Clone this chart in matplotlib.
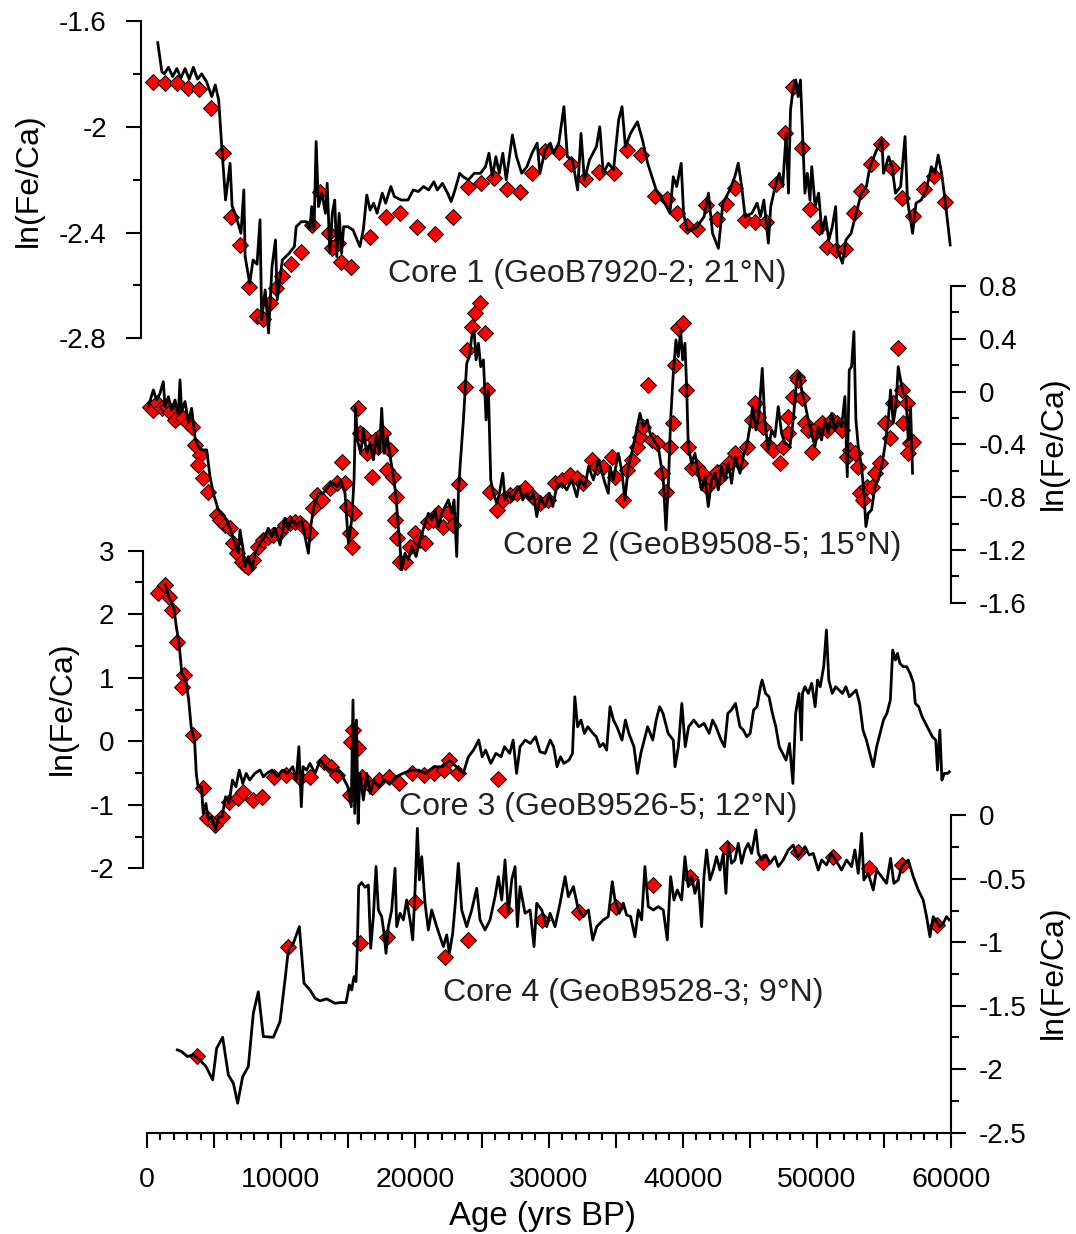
import matplotlib
matplotlib.use('Agg')
import matplotlib.pyplot as plt
from matplotlib.ticker import MultipleLocator, FuncFormatter

plt.rcParams['font.family'] = ['Liberation Sans', 'DejaVu Sans']
plt.rcParams['axes.unicode_minus'] = False

# ---------------- Core 1 (GeoB7920-2) ----------------
c1_age = [802, 1111, 1293, 1603, 1913, 2223, 2533, 2842, 3152, 3462,
          3772, 4082, 4450, 4836, 5095, 5353, 5607, 5864, 6200, 6355,
          6562, 6768, 7016, 7228, 7326, 7667, 7920, 8215, 8437, 8561,
          8824, 9077, 9330, 9594, 9718, 10105, 10622, 11004, 11138, 11520,
          11908, 12161, 12295, 12471, 12626, 12802, 13065, 13318, 13452, 13654,
          13835, 14015, 14165, 14346, 14527, 14682, 14992, 15379, 15891, 16149,
          16407, 16660, 16918, 17177, 17564, 17817, 18205, 18463, 18974, 19486,
          19878, 20261, 20643, 21025, 21418, 21676, 22058, 22440, 22704, 22957,
          23344, 23598, 23985, 24434, 24889, 25271, 25529, 25788, 26046, 26299,
          26562, 26816, 27280, 27585, 27973, 28360, 28742, 29130, 29337,
          29720, 30104, 30355, 30740, 31125, 31381, 31760, 32150, 32401, 32653,
          33037, 33550, 33801, 34063, 34448, 34827, 35212, 35463, 35714, 36099,
          36612, 36991, 37376, 38012, 38653, 39037, 39288, 39545, 39878, 40058,
          40309, 40693, 41073, 41586, 41914, 42222, 42657, 42991, 43504, 43883,
          44139, 44396, 44652, 45160, 45545, 45801, 46052, 46386, 46565, 46950,
          47201, 47457, 47714, 47888, 48042, 48227, 48426, 48611, 48785, 48991,
          49114, 49298, 49493, 49626, 49883, 50139, 50391, 50647, 50903, 51160,
          51411, 51539, 51924, 52180, 52560, 52944, 53329, 53708, 53970, 54472,
          54857, 54985, 55370, 55621, 55877, 56262, 56590, 56770, 57154, 57411,
          57795, 58175, 58559, 58816, 59067, 59324, 59580, 59965]
c1_val = [-1.682, -1.792, -1.800, -1.775, -1.810, -1.780, -1.815, -1.780, -1.820, -1.775,
          -1.820, -1.800, -1.830, -1.886, -1.842, -1.899, -2.094, -2.277, -2.138, -2.300,
          -2.327, -2.360, -2.403, -2.239, -2.491, -2.592, -2.504, -2.520, -2.352, -2.730,
          -2.617, -2.780, -2.529, -2.428, -2.655, -2.504, -2.478, -2.453, -2.378, -2.359,
          -2.359, -2.390, -2.302, -2.390, -2.056, -2.302, -2.251, -2.327, -2.214, -2.478,
          -2.327, -2.277, -2.491, -2.327, -2.478, -2.378, -2.378, -2.390, -2.453, -2.390,
          -2.258, -2.315, -2.289, -2.327, -2.251, -2.289, -2.226, -2.264, -2.277, -2.277,
          -2.239, -2.245, -2.226, -2.239, -2.208, -2.239, -2.214, -2.251, -2.283, -2.245,
          -2.176, -2.189, -2.201, -2.176, -2.176, -2.151, -2.100, -2.189, -2.113, -2.176,
          -2.100, -2.201, -2.031, -2.113, -2.176, -2.151, -2.100, -2.062, -2.176,
          -2.088, -2.062, -2.100, -2.062, -1.924, -2.113, -2.125, -2.239, -2.025, -2.201,
          -2.125, -2.075, -2.000, -2.176, -2.138, -2.163, -1.974, -1.924, -2.075, -2.025,
          -1.981, -2.050, -2.138, -2.239, -2.289, -2.327, -2.189, -2.226, -2.138, -2.327,
          -2.390, -2.390, -2.378, -2.340, -2.251, -2.403, -2.460, -2.289, -2.239, -2.189,
          -2.138, -2.226, -2.340, -2.327, -2.289, -2.340, -2.277, -2.440, -2.302, -2.214,
          -2.176, -2.226, -2.025, -2.251, -1.936, -1.861, -1.823, -1.886, -1.823, -2.088,
          -2.251, -2.176, -2.277, -2.151, -2.302, -2.251, -2.403, -2.340, -2.428, -2.378,
          -2.302, -2.466, -2.516, -2.428, -2.403, -2.327, -2.251, -2.226, -2.151, -2.088,
          -2.050, -2.176, -2.113, -2.151, -2.251, -2.226, -2.037, -2.277, -2.403, -2.289,
          -2.277, -2.239, -2.151, -2.176, -2.107, -2.176, -2.277, -2.447]
c1_mk_age = [466, 1365, 2212, 3039, 3886, 4759, 5683, 6252, 6944, 7584,
             8178, 8690, 9155, 9594, 10053, 10751, 11520, 12295, 12936, 13576,
             13783, 14222, 14475, 15250, 16660, 17869, 18897, 20131, 21495, 22833,
             23990, 24966, 25917, 26872, 27843, 28742, 29720, 30740, 31689, 32730,
             33750, 34827, 35848, 36863, 37935, 38832, 39545, 40309, 41027, 41765,
             42529, 43247, 43934, 44652, 45416, 46237, 46950, 47611, 48227, 48862,
             49498, 50139, 50775, 51411, 52129, 52744, 53329, 54016, 54806, 55621,
             56385, 57154, 57970, 58734, 59580]
c1_mk_val = [-1.830, -1.833, -1.833, -1.855, -1.858, -1.930, -2.098, -2.342, -2.447, -2.607,
             -2.715, -2.728, -2.665, -2.611, -2.564, -2.520, -2.475, -2.371, -2.248, -2.403,
             -2.457, -2.438, -2.510, -2.529, -2.418, -2.340, -2.327, -2.378, -2.405, -2.340,
             -2.229, -2.214, -2.192, -2.236, -2.245, -2.176, -2.090, -2.094, -2.141, -2.197,
             -2.170, -2.176, -2.088, -2.107, -2.261, -2.273, -2.327, -2.374, -2.386, -2.296,
             -2.349, -2.292, -2.233, -2.352, -2.359, -2.359, -2.216, -2.025, -1.848, -2.079,
             -2.311, -2.378, -2.456, -2.466, -2.463, -2.325, -2.243, -2.142, -2.065, -2.157,
             -2.270, -2.336, -2.236, -2.185, -2.283]

# ---------------- Core 2 (GeoB9508-5) ----------------
c2_age = [100, 473, 722, 970, 1219, 1344, 1592, 1841, 2090, 2339,
          2463, 2588, 2837, 3086, 3334, 3583, 3832, 4081, 4454, 4703,
          4952, 5325, 5574, 5947, 6320, 6569, 6818, 6943, 7142, 7316,
          7565, 7814, 8063, 8436, 8810, 9058, 9307, 9556, 9930, 10303,
          10552, 10801, 11174, 11548, 11797, 12046, 12220, 12469, 12793, 13166,
          13539, 13913, 14211, 14460, 14784, 15033, 15282, 15456, 15580, 15705,
          15954, 16153, 16402, 16651, 16900, 17099, 17348, 17522, 17696, 17945,
          18194, 18393, 18592, 18717, 18891, 19016, 19265, 19514, 19763, 20087,
          20385, 20684, 21008, 21257, 21506, 21755, 22003, 22252, 22501, 22750,
          22924, 23123, 23248, 23372, 23621, 23870, 24069, 24244, 24418, 24567,
          24742, 24916, 25115, 25314, 25488, 25662, 25861, 26110, 26309, 26558,
          26732, 26981, 27230, 27479, 27803, 28052, 28301, 28599, 28848, 29097,
          29346, 29719, 30043, 30292, 30591, 30964, 31337, 31711, 32084, 32333,
          32706, 32955, 33328, 33702, 34190, 34438, 34562, 34811, 35184, 35433,
          35682, 35930, 36179, 36503, 36801, 37050, 37349, 37548, 37796, 38170,
          38543, 38742, 38917, 39090, 39290, 39489, 39663, 39837, 39986, 40160,
          40285, 40410, 40658, 40907, 41156, 41404, 41653, 41901, 42150, 42399,
          42648, 42897, 43146, 43395, 43643, 43892, 44265, 44514, 44763, 45012,
          45211, 45460, 45684, 45933, 46132, 46381, 46630, 46879, 47127, 47376,
          47625, 47998, 48247, 48496, 48695, 48869, 49118, 49367, 49615, 49864,
          50113, 50362, 50610, 50859, 51108, 51357, 51605, 51854, 52103, 52277,
          52426, 52600, 52774, 52924, 53098, 53347, 53521, 53670, 53844, 54093,
          54342, 54590, 54839, 55088, 55337, 55511, 55710, 55909, 56083, 56257,
          56456, 56655, 56830, 57004, 57153]
c2_val = [-0.114, 0.012, -0.064, -0.013, 0.075, -0.114, -0.039, -0.139, -0.064, -0.177,
          0.088, -0.152, -0.076, -0.228, -0.127, -0.350, -0.417, -0.442, -0.442, -0.644,
          -0.771, -0.897, -0.922, -0.972, -1.073, -1.149, -1.225, -1.049, -1.175, -1.326,
          -1.250, -1.351, -1.225, -1.149, -1.099, -1.036, -1.099, -1.036, -1.162, -0.960,
          -1.036, -0.972, -1.010, -0.972, -1.099, -1.225, -1.023, -0.871, -0.771, -0.771,
          -0.720, -0.694, -0.720, -0.669, -0.771, -1.149, -0.972, -0.669, -0.114, -0.366,
          -0.467, -0.290, -0.467, -0.391, -0.518, -0.341, -0.467, -0.127, -0.467, -0.341,
          -0.518, -0.644, -0.796, -0.972, -1.175, -1.351, -1.225, -1.275, -1.175, -1.250,
          -1.124, -1.023, -0.922, -0.972, -0.897, -1.023, -0.922, -0.871, -0.821, -0.922,
          -0.821, -1.250, -0.771, -0.568, -0.215, 0.215, 0.265, 0.416, 0.467, 0.240,
          0.366, 0.189, 0.240, -0.215, 0.012, -0.669, -0.771, -0.846, -0.771, -0.619,
          -0.821, -0.771, -0.821, -0.771, -0.720, -0.821, -0.771, -0.821, -0.771, -0.947,
          -0.796, -0.871, -0.771, -0.871, -0.720, -0.694, -0.745, -0.669, -0.796, -0.669,
          -0.720, -0.568, -0.669, -0.518, -0.695, -0.771, -0.569, -0.670, -0.468, -0.594,
          -0.821, -0.569, -0.468, -0.316, -0.165, -0.266, -0.215, -0.316, -0.367, -0.417,
          -0.670, -1.048, -0.720, -0.215, 0.138, 0.391, 0.265, 0.467, 0.240, 0.366,
          0.037, -0.417, -0.543, -0.468, -0.619, -0.745, -0.645, -0.872, -0.670, -0.619,
          -0.745, -0.569, -0.670, -0.543, -0.695, -0.493, -0.619, -0.493, -0.417, -0.266,
          -0.114, -0.291, -0.165, 0.176, -0.240, -0.442, -0.291, -0.341, -0.114, -0.316,
          -0.392, -0.417, -0.215, 0.088, 0.138, 0.012, -0.089, -0.215, -0.316, -0.417,
          -0.266, -0.367, -0.215, -0.316, -0.165, -0.291, -0.215, -0.266, -0.038, -0.645,
          0.164, 0.189, 0.454, -0.215, -0.417, -0.569, -0.771, -1.023, -0.922, -0.897,
          -0.720, -0.670, -0.569, -0.417, -0.215, 0.012, -0.240, -0.114, 0.189, 0.088,
          -0.013, -0.038, -0.367, -0.114, -0.619]
c2_mk_age = [224, 473, 722, 1095, 1468, 1717, 2090, 2339, 2712, 3086,
             3334, 3583, 3956, 3832, 4205, 4578, 5200, 5450, 5823, 6196,
             6395, 6694, 7067, 7316, 7565, 7938, 8311, 8685, 9058, 9431,
             9929, 10303, 10676, 11049, 11423, 11796, 12169, 12418, 12667, 13041,
             13663, 14160, 14534, 14783, 14908, 15157, 15282, 15456, 15779, 15904,
             16153, 16402, 16775, 17024, 17273, 17646, 17895, 18144, 18393, 18592,
             18517, 18642, 18891, 19264, 19637, 20011, 20384, 20757, 21006, 21379,
             21753, 22126, 22499, 22872, 23320, 23743, 23868, 24241, 24490, 24863,
             25236, 25361, 25610, 26108, 26605, 27103, 27601, 28223, 28845, 29343,
             29965, 30463, 30961, 31583, 32081, 32579, 33201, 33574, 34064, 34686,
             34935, 35557, 35806, 36179, 36552, 36801, 37050, 37423, 37672, 38045,
             38418, 38742, 39040, 39289, 39414, 39662, 39986, 40235, 40409, 40658,
             41031, 41404, 41777, 42150, 42524, 42772, 43146, 43519, 43892, 44265,
             44763, 45136, 45385, 45634, 46007, 46380, 46753, 47251, 47500, 47873,
             47873, 48246, 48495, 48619, 48868, 49117, 49366, 49614, 49863, 50112,
             50361, 50734, 51107, 51480, 51854, 52227, 52476, 52849, 53098, 53222,
             53471, 53720, 54093, 54342, 54715, 55088, 55461, 55710, 56083, 56332,
             56705, 56456, 56954, 56830, 57203]
c2_mk_val = [-0.114, -0.139, -0.089, -0.127, -0.114, -0.152, -0.215, -0.190, -0.203, -0.240,
             -0.266, -0.404, -0.480, -0.556, -0.657, -0.758, -0.935, -0.973, -1.010, -1.036,
             -1.149, -1.225, -1.288, -1.314, -1.326, -1.276, -1.175, -1.124, -1.099, -1.086,
             -1.061, -1.010, -0.998, -0.985, -0.998, -1.036, -1.074, -0.884, -0.783, -0.821,
             -0.733, -0.695, -0.531, -0.695, -0.872, -1.074, -1.175, -0.922, -0.127, -0.316,
             -0.329, -0.468, -0.644, -0.367, -0.417, -0.316, -0.594, -0.442, -0.644, -0.796,
             -0.973, -1.112, -1.288, -1.288, -1.175, -1.074, -1.124, -1.149, -0.985, -0.973,
             -0.922, -1.023, -0.922, -1.010, -0.700, 0.037, 0.315, 0.492, 0.593, 0.669,
             0.441, 0.012, -0.758, -0.897, -0.821, -0.783, -0.771, -0.733, -0.796, -0.846,
             -0.821, -0.695, -0.670, -0.632, -0.657, -0.695, -0.518, -0.569, -0.569, -0.493,
             -0.644, -0.821, -0.594, -0.518, -0.417, -0.341, -0.266, 0.050, -0.367, -0.392,
             -0.619, -0.758, -0.417, -0.240, 0.202, 0.479, 0.517, 0.012, -0.417, -0.581,
             -0.569, -0.619, -0.720, -0.670, -0.607, -0.644, -0.569, -0.531, -0.468, -0.543,
             -0.417, -0.215, -0.089, -0.190, -0.266, -0.404, -0.442, -0.543, -0.417, -0.190,
             -0.316, -0.038, 0.113, 0.088, -0.051, -0.240, -0.291, -0.455, -0.316, -0.266,
             -0.240, -0.291, -0.215, -0.240, -0.291, -0.493, -0.442, -0.468, -0.569, -0.771,
             -0.821, -0.720, -0.720, -0.619, -0.543, -0.240, -0.354, -0.089, 0.328, 0.012,
             -0.089, -0.240, -0.392, -0.468, -0.379]

# ---------------- Core 3 (GeoB9526-5) ----------------
c3_age = [1365, 1622, 2008, 2188, 2394, 2600, 2908, 3113, 3294, 3551,
          3679, 3807, 4065, 4193, 4398, 4579, 4836, 5093, 5350, 5607,
          5864, 6122, 6379, 6636, 6892, 7149, 7407, 7664, 8049, 8435,
          8692, 8949, 9334, 9721, 10106, 10492, 10877, 11134, 11340, 11520,
          11649, 11906, 12163, 12550, 12935, 13321, 13707, 14092, 14478, 14736,
          14993, 15250, 15378, 15507, 15635, 15763, 15893, 16150, 16407, 16664,
          16922, 17307, 17693, 18079, 18593, 19108, 19750, 20265, 20779, 21422,
          22064, 22579, 23093, 23608, 23993, 24379, 24765, 25022, 25279, 25665,
          26050, 26435, 26693, 27078, 27335, 27592, 27850, 28235, 28621, 29007,
          29337, 29720, 30102, 30357, 30613, 30868, 31124, 31506, 31762,
          31940, 32144, 32399, 32655, 32909, 33293, 33547, 33802, 34058, 34313,
          34568, 34823, 35078, 35461, 35716, 35972, 36354, 36610, 36865, 37119,
          37375, 37758, 38014, 38268, 38523, 38906, 39288, 39417, 39672, 39927,
          40183, 40437, 40820, 41203, 41586, 41968, 42223, 42478, 42861, 43116,
          43364, 43627, 43932, 44265, 44520, 44775, 45030, 45285, 45540, 45796,
          45923, 46178, 46434, 46689, 46944, 47200, 47454, 47710, 47965, 48220,
          48424, 48680, 48858, 48935, 49113, 49368, 49624, 49878, 50057, 50261,
          50518, 50722, 50900, 51156, 51411, 51666, 51921, 52176, 52431, 52686,
          52941, 53197, 53452, 53706, 53962, 54217, 54471, 54727, 54982, 55237,
          55493, 55671, 55875, 56028, 56207, 56462, 56717, 56973, 57228, 57355,
          57610, 57866, 58121, 58376, 58630, 58885, 59013, 59191, 59344, 59522,
          59777, 59905]
c3_val = [2.460, 2.276, 2.092, 1.804, 1.540, 1.069, 0.964, 0.649, 0.229, 0.019,
          -0.506, -0.716, -0.716, -1.136, -0.979, -1.241, -1.189, -1.398, -1.189, -1.189,
          -0.874, -0.979, -0.611, -0.716, -0.454, -0.664, -0.506, -0.611, -0.506, -0.454,
          -0.559, -0.506, -0.454, -0.559, -0.454, -0.506, -0.401, -0.611, -0.086, -1.031,
          -0.401, -0.454, -0.349, -0.506, -0.296, -0.401, -0.454, -0.454, -0.506, -0.611,
          -0.716, -1.031, 0.649, -1.136, 0.334, -1.294, -0.506, -0.926, -0.506, -0.821,
          -0.611, -0.716, -0.611, -0.664, -0.559, -0.506, -0.454, -0.454, -0.506, -0.401,
          -0.401, -0.296, -0.401, -0.506, -0.244, -0.139, 0.019, -0.244, -0.139, -0.349,
          -0.191, -0.244, -0.086, -0.191, 0.019, -0.506, -0.086, 0.019, -0.034, 0.071,
          -0.165, -0.191, 0.019, -0.086, -0.401, -0.244, -0.349, -0.296, -0.191,
          0.701, 0.229, 0.334, 0.124, 0.229, 0.124, 0.071, -0.086, -0.034, -0.139,
          0.544, 0.334, 0.229, 0.019, 0.334, 0.124, -0.086, -0.506, -0.191, 0.019,
          0.229, 0.019, 0.334, 0.544, 0.439, 0.124, 0.019, -0.401, -0.086, 0.596,
          -0.086, 0.229, 0.334, 0.229, 0.281, 0.124, 0.334, 0.229, 0.019, -0.086,
          0.439, 0.491, 0.596, 0.229, 0.176, 0.071, 0.124, 0.491, 0.544, 0.859,
          0.964, 0.754, 0.701, 0.439, 0.229, -0.086, -0.191, -0.296, -0.034, -0.664,
          0.439, 0.754, 0.019, 0.754, 0.859, 0.754, 0.911, 0.544, 0.964, 0.859,
          1.174, 1.751, 0.964, 0.754, 0.859, 0.806, 0.754, 0.859, 0.701, 0.754,
          0.806, 0.596, 0.176, 0.019, -0.191, -0.401, -0.086, 0.124, 0.334, 0.439,
          0.649, 1.436, 1.279, 1.384, 1.226, 1.174, 1.174, 1.069, 0.911, 0.596,
          0.544, 0.386, 0.281, 0.176, 0.071, 0.019, -0.454, 0.176, -0.611, -0.506,
          -0.506, -0.480]
c3_mk_age = [852, 1365, 1622, 1880, 2265, 2779, 2650, 3422, 4193, 4450,
             5093, 5607, 6122, 6764, 7149, 7921, 8564, 9464, 10363, 11391,
             12162, 13191, 13705, 14219, 15121, 15198, 15378, 15763, 16022, 16407,
             16792, 17307, 18079, 18849, 19750, 20650, 21417, 22188, 22574, 23217,
             26178]
c3_mk_val = [2.329, 2.460, 2.276, 2.066, 1.567, 1.042, 0.859, 0.098, -0.742, -1.215,
             -1.320, -1.189, -0.952, -0.900, -0.795, -0.926, -0.873, -0.558, -0.532, -0.585,
             -0.558, -0.322, -0.401, -0.532, -0.847, -0.007, 0.176, -0.112, -0.558, -0.637,
             -0.716, -0.611, -0.558, -0.664, -0.506, -0.532, -0.506, -0.454, -0.296, -0.506,
             -0.600]

# ---------------- Core 4 (GeoB9528-3) ----------------
c4_age = [2264, 2588, 3011, 3459, 3956, 4404, 4902, 5200, 5648, 6072,
          6445, 6768, 7142, 7565, 7938, 8311, 8685, 9431, 9929, 10303,
          10552, 10925, 11373, 11722, 12170, 12543, 12916, 13414, 14036, 14409,
          14857, 15107, 15281, 15455, 15604, 15704, 15804, 16028, 16277, 16526,
          16700, 16899, 17098, 17272, 17521, 17695, 17844, 18019, 18267, 18516,
          18641, 18890, 19139, 19388, 19637, 19836, 20010, 20184, 20334, 20508,
          20756, 21005, 21254, 21627, 21876, 22125, 22374, 22573, 22822, 22996,
          23245, 23494, 23867, 24241, 24614, 24863, 25236, 25610, 25983, 26232,
          26481, 26730, 26979, 27228, 27477, 27651, 27850, 28223, 28596, 28895,
          29095, 29468, 29841, 30090, 30463, 30837, 31210, 31459, 31832, 32206,
          32579, 32952, 33276, 33575, 34064, 34438, 34736, 34935, 35258, 35557,
          35806, 36104, 36428, 36677, 36926, 37174, 37423, 37796, 38170, 38543,
          38842, 39090, 39339, 39588, 39912, 40161, 40409, 40658, 40907, 41155,
          41404, 41578, 41777, 42026, 42275, 42524, 42772, 43021, 43220, 43394,
          43643, 43892, 44141, 44390, 44639, 44887, 45136, 45460, 45634, 45883,
          46207, 46505, 46879, 47127, 47500, 47873, 48246, 48545, 48794, 49118,
          49441, 49739, 50113, 50362, 50734, 51107, 51481, 51854, 52227, 52600,
          52849, 53098, 53347, 53521, 53844, 54217, 54466, 54839, 55212, 55511,
          55760, 56083, 56332, 56580, 56830, 57203, 57576, 57949, 58198, 58448,
          58696, 58945, 59194, 59442, 59691, 59890]
c4_val = [-1.848, -1.861, -1.900, -1.887, -1.927, -1.979, -2.084, -1.835, -1.748, -2.045,
          -2.110, -2.268, -2.058, -1.979, -1.559, -1.389, -1.743, -1.748, -1.625, -1.297,
          -1.061, -1.008, -0.877, -1.323, -1.376, -1.441, -1.462, -1.446, -1.481, -1.475,
          -1.475, -1.336, -1.376, -1.271, -1.310, -1.034, -0.557, -0.530, -0.567, -0.549,
          -1.047, -0.798, -0.404, -0.746, -0.798, -0.929, -1.087, -0.877, -0.746, -0.418,
          -0.877, -0.772, -0.824, -0.667, -0.824, -0.982, -0.588, -0.103, -0.509, -0.326,
          -0.693, -0.903, -0.746, -0.877, -0.956, -1.034, -0.942, -1.087, -0.929, -0.719,
          -0.378, -0.746, -0.877, -0.746, -0.575, -0.824, -0.903, -0.824, -0.641, -0.483,
          -0.667, -0.352, -0.772, -0.509, -0.404, -0.877, -0.562, -0.772, -0.746, -1.034,
          -0.693, -0.746, -0.877, -0.772, -0.877, -0.693, -0.483, -0.641, -0.562, -0.746,
          -0.798, -0.746, -0.982, -0.877, -0.824, -0.798, -0.523, -0.667, -0.772, -0.693,
          -0.785, -0.798, -0.956, -0.746, -0.824, -0.404, -0.719, -0.746, -0.719, -0.746,
          -0.982, -0.483, -0.667, -0.588, -0.667, -0.326, -0.562, -0.483, -0.615, -0.509,
          -0.877, -0.483, -0.273, -0.509, -0.431, -0.326, -0.431, -0.300, -0.615, -0.221,
          -0.378, -0.352, -0.221, -0.378, -0.273, -0.221, -0.300, -0.116, -0.300, -0.352,
          -0.313, -0.378, -0.326, -0.404, -0.352, -0.273, -0.234, -0.326, -0.300, -0.247,
          -0.313, -0.300, -0.431, -0.352, -0.391, -0.300, -0.365, -0.431, -0.352, -0.404,
          -0.273, -0.457, -0.142, -0.509, -0.457, -0.588, -0.431, -0.483, -0.536, -0.339,
          -0.536, -0.509, -0.404, -0.378, -0.352, -0.483, -0.588, -0.667, -0.798, -0.956,
          -0.798, -0.837, -0.877, -0.851, -0.798, -0.824]
c4_mk_age = [3757, 10550, 15900, 17941, 20006, 22246, 23987, 26725, 29462, 32250,
             35010, 37796, 40533, 43270, 46007, 48619, 51232, 53919, 56332, 58945]
c4_mk_val = [-1.895, -1.034, -1.008, -0.956, -0.680, -1.113, -0.982, -0.746, -0.824, -0.759,
             -0.719, -0.549, -0.483, -0.260, -0.365, -0.286, -0.326, -0.418, -0.391, -0.864]

labels = ['Core 1 (GeoB7920-2; 21\u00b0N)', 'Core 2 (GeoB9508-5; 15\u00b0N)',
          'Core 3 (GeoB9526-5; 12\u00b0N)', 'Core 4 (GeoB9528-3; 9\u00b0N)']

W, H = 1076, 1234
fig = plt.figure(figsize=(W / 100, H / 100), dpi=100)


def yfmt(v, pos):
    if abs(v) < 1e-9:
        return '0'
    return '%g' % v


def panel(top, bottom, ylim, major, minor, side, offset, pad):
    ax = fig.add_axes([147 / W, 1 - bottom / H, (950.7 - 147) / W, (bottom - top) / H])
    ax.patch.set_visible(False)
    ax.set_xlim(0, 60000)
    ax.set_ylim(*ylim)
    for s in ax.spines.values():
        s.set_visible(False)
    sp = ax.spines[side]
    sp.set_visible(True)
    sp.set_linewidth(1.5)
    sp.set_position(('outward', offset))
    ax.yaxis.set_major_locator(MultipleLocator(major))
    ax.yaxis.set_minor_locator(MultipleLocator(minor))
    ax.yaxis.set_major_formatter(FuncFormatter(yfmt))
    if side == 'right':
        ax.yaxis.tick_right()
    else:
        ax.yaxis.tick_left()
    ax.tick_params(axis='y', which='major', length=10.5, width=1.5, labelsize=20,
                   pad=pad, direction='out')
    ax.tick_params(axis='y', which='minor', length=5.5, width=1.5, direction='out')
    ax.tick_params(axis='x', which='both', bottom=False, labelbottom=False)
    return ax


def draw(ax, age, val, mk_age, mk_val):
    ax.plot(mk_age, mk_val, ls='none', marker='D', ms=8, mfc='#ff0000',
            mec='black', mew=0.7, zorder=2, clip_on=False)
    ax.plot(age, val, color='black', lw=2.0, zorder=3, clip_on=False)


ax1 = panel(21, 338.3, (-2.8, -1.6), 0.4, 0.2, 'left', 4.3, 14)
draw(ax1, c1_age, c1_val, c1_mk_age, c1_mk_val)

ax2 = panel(286, 602.7, (-1.6, 0.8), 0.4, 0.2, 'right', 0, 10)
draw(ax2, c2_age, c2_val, c2_mk_age, c2_mk_val)

ax3 = panel(550.7, 868.3, (-2, 3), 1, 0.5, 'left', 2.7, 10.5)
draw(ax3, c3_age, c3_val, c3_mk_age, c3_mk_val)

ax4 = panel(815.3, 1132.7, (-2.5, 0), 0.5, 0.25, 'right', 0, 10)
draw(ax4, c4_age, c4_val, c4_mk_age, c4_mk_val)

# bottom age axis
ax4.spines['bottom'].set_visible(True)
ax4.spines['bottom'].set_linewidth(1.5)
ax4.xaxis.set_major_locator(MultipleLocator(5000))
ax4.xaxis.set_minor_locator(MultipleLocator(1000))
ax4.xaxis.set_major_formatter(FuncFormatter(lambda v, p: '%d' % v if v % 10000 == 0 else ''))
ax4.tick_params(axis='x', which='major', bottom=True, labelbottom=True, length=10.8,
                width=1.5, labelsize=20.5, pad=14, direction='out')
ax4.tick_params(axis='x', which='minor', bottom=True, length=5, width=1.5, direction='out')

# axis titles
fig.text(542 / W, 1 - 1216 / H, 'Age (yrs BP)', ha='center', va='center', fontsize=23.8)
ylab = 'ln(Fe/Ca)'
fig.text(29 / W, 1 - 180 / H, ylab, rotation=90, ha='center', va='center', fontsize=23)
fig.text(63 / W, 1 - 708 / H, ylab, rotation=90, ha='center', va='center', fontsize=23)
fig.text(1054 / W, 1 - 443 / H, ylab, rotation=90, ha='center', va='center', fontsize=23)
fig.text(1054 / W, 1 - 972 / H, ylab, rotation=90, ha='center', va='center', fontsize=23)

# core labels
for (cx, cy), txt in zip([(587, 274), (702, 546), (598, 807.5), (633, 993)], labels):
    fig.text(cx / W, 1 - cy / H, txt, ha='center', va='center', fontsize=23.1, color='#222222')

fig.savefig('out.png', dpi=100)
